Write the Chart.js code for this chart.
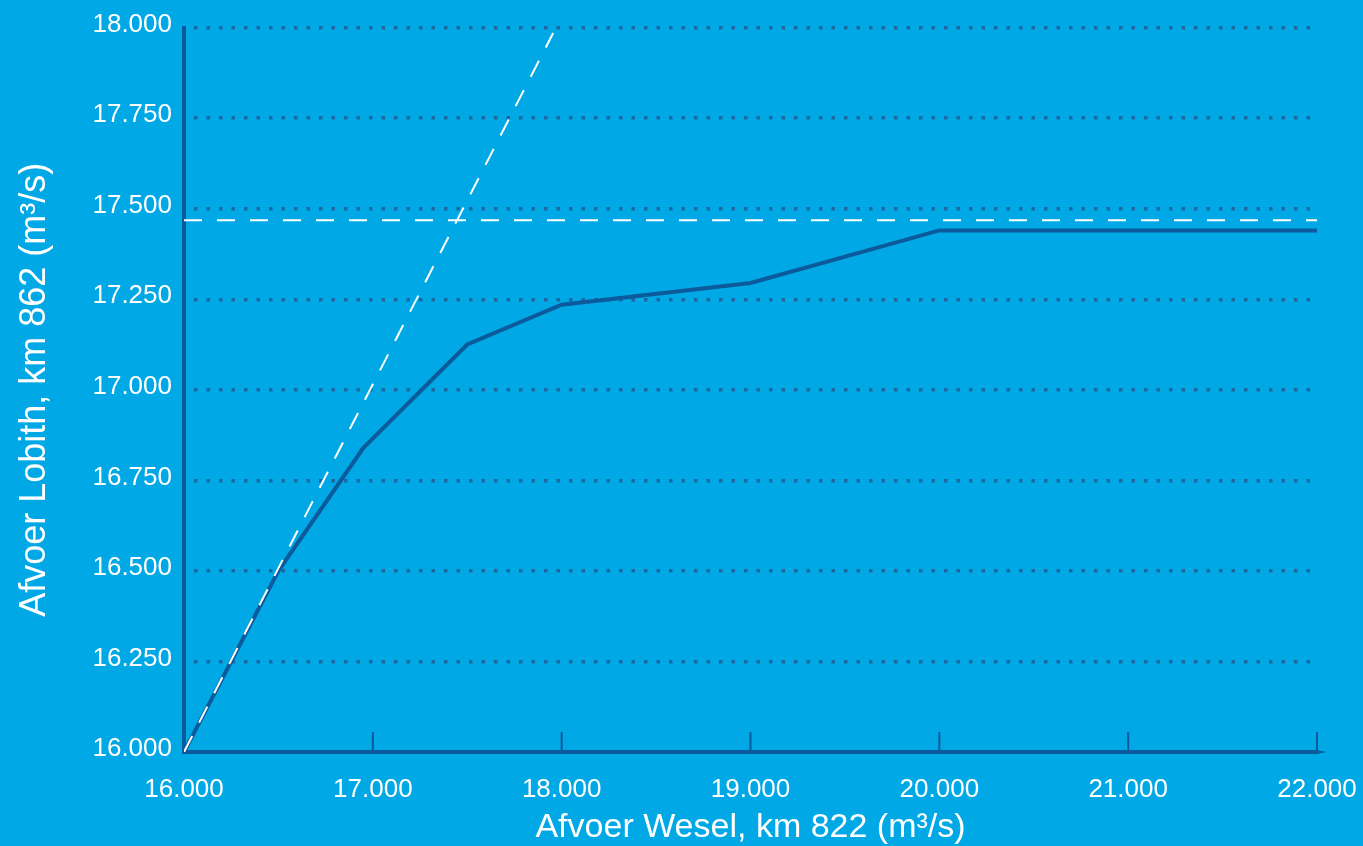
<!DOCTYPE html>
<html>
<head>
<meta charset="utf-8">
<script src="https://cdn.jsdelivr.net/npm/chart.js@4.4.0/dist/chart.umd.min.js"></script>
<style>
  html, body { margin: 0; padding: 0; background: #00a8e6; }
  #wrap { width: 1363px; height: 846px; }
</style>
</head>
<body>
<div id="wrap"><canvas id="afvoerChart"></canvas></div>
<script>
// Afvoer Wesel (x) tegen afvoer Lobith (y), m3/s
const weselAfvoer = [16000, 16500, 16950, 17500, 18000, 19000, 20000, 22000];
const lobithAfvoer = [16000, 16500, 16840, 17125, 17235, 17295, 17440, 17440];

// witte stippellijnen
const diagonaalX = [16000, 17955];
const diagonaalY = [16000, 17985];
const grensX = [16000, 22000];
const grensY = [17468, 17468];

const xTickLabels = ['16.000', '17.000', '18.000', '19.000', '20.000', '21.000', '22.000'];
const yTickLabels = ['16.000', '16.250', '16.500', '16.750', '17.000', '17.250', '17.500', '17.750', '18.000'];

const darkBlue = '#0b5a9b';
const dotColor = '#1b68a0';
const fontFamily = "'Liberation Sans', Arial, Helvetica, sans-serif";

function toPoints(xs, ys) {
    return xs.map((x, i) => ({ x: x, y: ys[i] }));
}

// tick marks that point into the plot, plus the small arrow on the x axis
const axisExtras = {
    id: 'axisExtras',
    afterDraw(chart) {
        const ctx = chart.ctx;
        const xScale = chart.scales.x;
        const bottom = chart.chartArea.bottom;
        ctx.save();
        ctx.strokeStyle = darkBlue;
        ctx.lineWidth = 2;
        xScale.ticks.forEach(t => {
            if (t.value === 16000) return;
            const px = xScale.getPixelForValue(t.value);
            ctx.beginPath();
            ctx.moveTo(px, bottom);
            ctx.lineTo(px, bottom - 20);
            ctx.stroke();
        });
        const end = xScale.getPixelForValue(22000);
        ctx.fillStyle = darkBlue;
        ctx.beginPath();
        ctx.moveTo(end, bottom - 2);
        ctx.lineTo(end + 9, bottom);
        ctx.lineTo(end, bottom + 2);
        ctx.closePath();
        ctx.fill();
        ctx.restore();
    }
};

const ctx = document.getElementById('afvoerChart').getContext('2d');
new Chart(ctx, {
    type: 'scatter',
    data: {
        datasets: [
            {
                label: 'diagonaal',
                data: toPoints(diagonaalX, diagonaalY),
                showLine: true,
                borderColor: '#ffffff',
                borderWidth: 2,
                borderDash: [18, 15],
                pointRadius: 0
            },
            {
                label: 'grens',
                data: toPoints(grensX, grensY),
                showLine: true,
                borderColor: '#ffffff',
                borderWidth: 2,
                borderDash: [18, 15],
                pointRadius: 0
            },
            {
                label: 'Lobith',
                data: toPoints(weselAfvoer, lobithAfvoer),
                showLine: true,
                borderColor: darkBlue,
                borderWidth: 4,
                pointRadius: 0,
                tension: 0
            }
        ]
    },
    options: {
        responsive: true,
        maintainAspectRatio: false,
        animation: false,
        layout: {
            padding: { top: 27, right: 46, left: 0, bottom: 0 }
        },
        plugins: {
            legend: { display: false },
            tooltip: { enabled: false }
        },
        scales: {
            x: {
                type: 'linear',
                min: 16000,
                max: 22000,
                afterFit: scale => {
                    scale.height = 94;
                    scale.paddingLeft = 0;
                    scale.paddingRight = 0;
                },
                afterBuildTicks: scale => {
                    scale.ticks = xTickLabels.map((l, i) => ({ value: 16000 + i * 1000 }));
                },
                ticks: {
                    color: '#ffffff',
                    font: { family: fontFamily, size: 26 },
                    padding: 14,
                    maxRotation: 0,
                    callback: (v, i) => xTickLabels[i]
                },
                grid: { display: false },
                border: { display: true, color: darkBlue, width: 4 },
                title: {
                    display: true,
                    text: 'Afvoer Wesel, km 822 (m³/s)',
                    color: '#ffffff',
                    font: { family: fontFamily, size: 34 },
                    padding: { top: 0, bottom: -2 }
                }
            },
            y: {
                type: 'linear',
                min: 16000,
                max: 18000,
                afterFit: scale => { scale.width = 184; },
                afterBuildTicks: scale => {
                    scale.ticks = yTickLabels.map((l, i) => ({ value: 16000 + i * 250 }));
                },
                ticks: {
                    color: '#ffffff',
                    font: { family: fontFamily, size: 26 },
                    padding: 12,
                    labelOffset: -3,
                    callback: (v, i) => yTickLabels[i]
                },
                grid: {
                    drawTicks: false,
                    lineWidth: 3.5,
                    color: c => (c.tick && c.tick.value === 16000) ? 'rgba(0,0,0,0)' : dotColor
                },
                border: { display: true, color: darkBlue, width: 4, dash: [3.5, 9], dashOffset: -8 },
                title: {
                    display: true,
                    text: 'Afvoer Lobith, km 862 (m³/s)',
                    color: '#ffffff',
                    font: { family: fontFamily, size: 36 },
                    padding: { top: 13, bottom: 0 }
                }
            }
        }
    },
    plugins: [axisExtras]
});
</script>
</body>
</html>
